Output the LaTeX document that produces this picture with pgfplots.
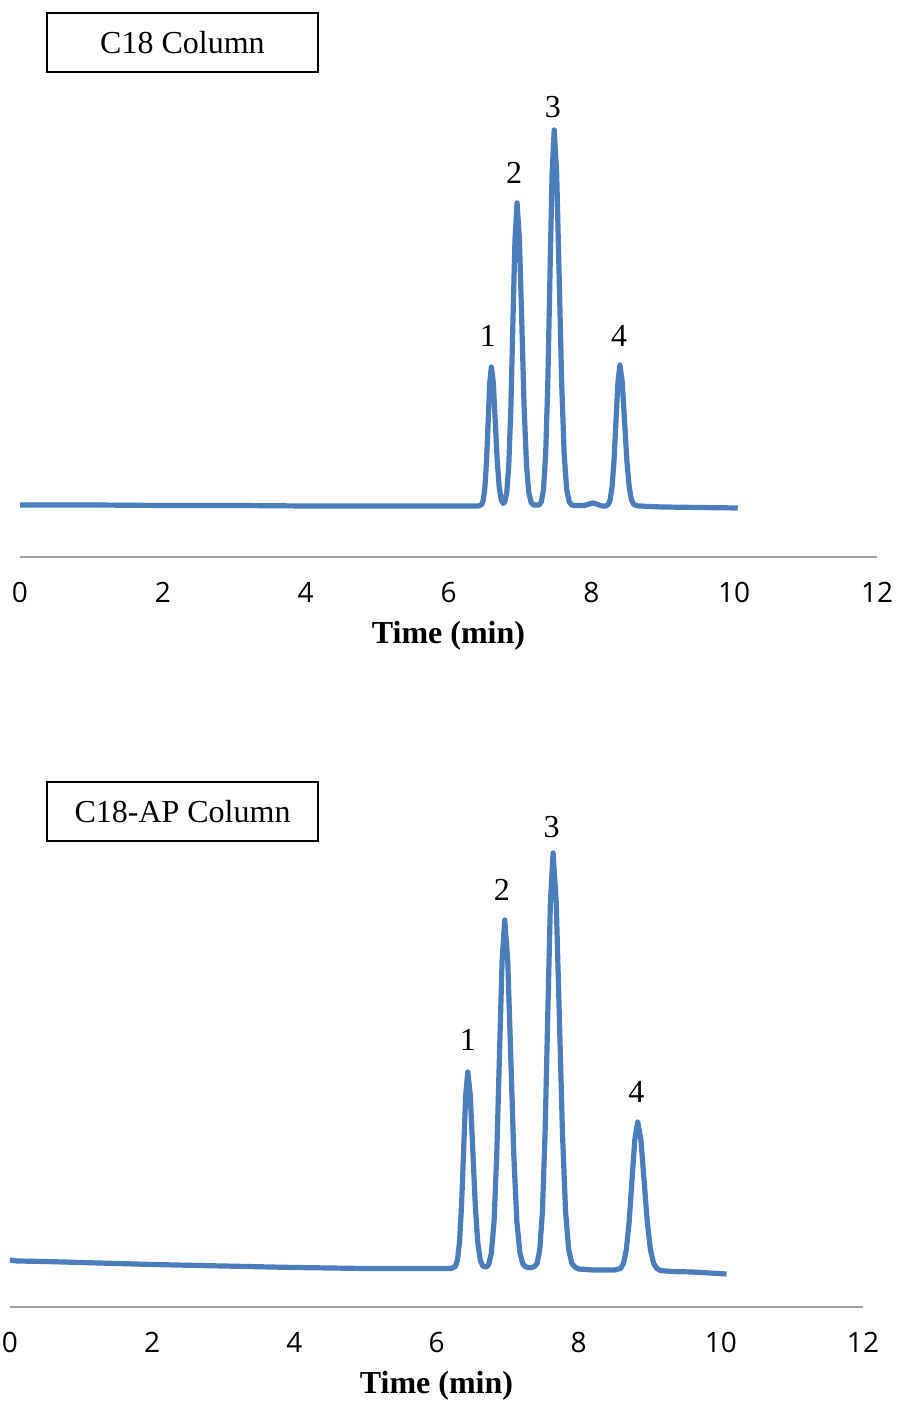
\documentclass[border=0pt]{standalone}
\usepackage{pgfplots}
\pgfplotsset{compat=1.18}
\usepackage{fontspec}
\setmainfont{Liberation Serif}
\newfontfamily\ticksfont{Open Sans}
\definecolor{tracecol}{RGB}{74,126,187}
\definecolor{axisgray}{RGB}{160,160,160}

\pgfplotsset{
  chrom/.style={
    scale only axis,
    width=428.5pt, height=272pt,
    xmin=0, xmax=12, ymin=0, ymax=544,
    axis x line=bottom, axis y line=none,
    axis line style={-, draw=axisgray, line width=0.6pt},
    xtick={0,2,...,12},
    major tick length=0pt,
    /pgf/number format/assume math mode=true,
    xticklabel style={font=\ticksfont\fontsize{14}{14}\selectfont, anchor=base, yshift=-23pt},
    xlabel={Time (min)},
    xlabel style={at={(axis description cs:0.5,0)}, anchor=base, yshift=-43.5pt,
      font=\bfseries\fontsize{16}{16}\selectfont},
    clip=false,
  },
  trace/.style={color=tracecol, line width=2.6pt, line join=round, no marks},
}
\tikzset{
  peaklab/.style={font=\fontsize{16}{16}\selectfont},
  colbox/.style={draw=black, line width=0.8pt, fill=white, minimum width=135.5pt,
    minimum height=29.5pt, inner sep=0pt, font=\fontsize{16}{16}\selectfont},
}

\begin{document}
\begin{tikzpicture}
\path[use as bounding box] (0,0) rectangle (448pt,700.5pt);

% C18 column
\begin{axis}[chrom, at={(10pt,422pt)}, anchor=south west]
\addplot[trace] coordinates {
(0,52) (0.5,52) (1,52) (2,51.5) (3,51.5) (4,51) (5,51) (6,51) (6.42,51)
(6.465,52.5) (6.4875,57) (6.51,70) (6.5325,96) (6.555,135) (6.5775,174) (6.60,190)
(6.6275,174) (6.655,135) (6.6825,96) (6.71,70) (6.7375,57.2) (6.765,53.6)
(6.786,54.9) (6.815,64) (6.844,92) (6.873,149) (6.902,235) (6.931,318) (6.96,354)
(6.993,318) (7.026,235) (7.059,149) (7.092,92) (7.125,64) (7.158,54.4) (7.19,52) (7.23,52)
(7.27,52) (7.30,55.2) (7.33,67.5) (7.36,102) (7.39,173) (7.42,279) (7.45,383) (7.48,427)
(7.515,383) (7.55,279) (7.585,173) (7.62,102) (7.655,67.5) (7.69,55.2) (7.725,52) (7.77,51.5)
(7.9,51.5) (7.97,53) (8.02,54) (8.07,53) (8.15,51) (8.2,50.8)
(8.235,52.5) (8.2625,57) (8.29,70) (8.3175,96) (8.345,136) (8.3725,175) (8.40,192)
(8.4325,175) (8.465,136) (8.4975,96) (8.53,70) (8.5625,57) (8.595,52.5) (8.64,51.2) (8.8,50.5)
(9.0,50) (9.5,49.5) (10.05,49)
};
\node[peaklab] at (axis cs:6.55,221) {1};
\node[peaklab] at (axis cs:6.92,384) {2};
\node[peaklab] at (axis cs:7.46,450) {3};
\node[peaklab] at (axis cs:8.39,221) {4};
\node[colbox] at (axis cs:2.275,514.5) {C18 Column};
\end{axis}

% C18-AP column
\begin{axis}[chrom, width=426.5pt, at={(5pt,47pt)}, anchor=south west]
\addplot[trace] coordinates {
(0,47) (0.1,46) (0.5,45.5) (1,44.5) (2,42.5) (3,41) (4,39.5) (5,38.5) (6,38.5) (6.209,38.5)
(6.266,40.7) (6.295,47) (6.324,65) (6.353,102.3) (6.382,157.7) (6.411,212) (6.44,235)
(6.475,212) (6.51,157.7) (6.545,102.3) (6.58,65) (6.615,47) (6.65,41.2) (6.685,39.8)
(6.72,41.1) (6.735,42.9) (6.7725,54.3) (6.81,86) (6.8475,152) (6.885,250) (6.9225,346) (6.96,387)
(7.0025,346) (7.045,250) (7.0875,152) (7.13,86) (7.1725,54.3) (7.215,42.9) (7.2575,40) (7.30,39.5)
(7.34,39.6) (7.3775,40.4) (7.415,43.6) (7.4525,57.2) (7.49,95) (7.5275,174) (7.565,291) (7.6025,405) (7.64,454)
(7.684,405) (7.728,291) (7.772,174) (7.816,95) (7.86,57) (7.904,43.6) (7.948,39.9) (8.0,38)
(8.2,37) (8.51,37) (8.59,38.6) (8.63,43.5) (8.67,57) (8.71,85) (8.75,127) (8.79,167.6) (8.83,185)
(8.875,167.6) (8.92,127) (8.965,85) (9.01,57) (9.055,43.5) (9.10,38.6) (9.15,36.5) (9.3,35.5)
(9.6,35) (10.08,33)
};
\node[peaklab] at (axis cs:6.44,267) {1};
\node[peaklab] at (axis cs:6.92,417) {2};
\node[peaklab] at (axis cs:7.62,480) {3};
\node[peaklab] at (axis cs:8.81,215) {4};
\node[colbox] at (axis cs:2.427,495.5) {C18-AP Column};
\end{axis}
\end{tikzpicture}
\end{document}
